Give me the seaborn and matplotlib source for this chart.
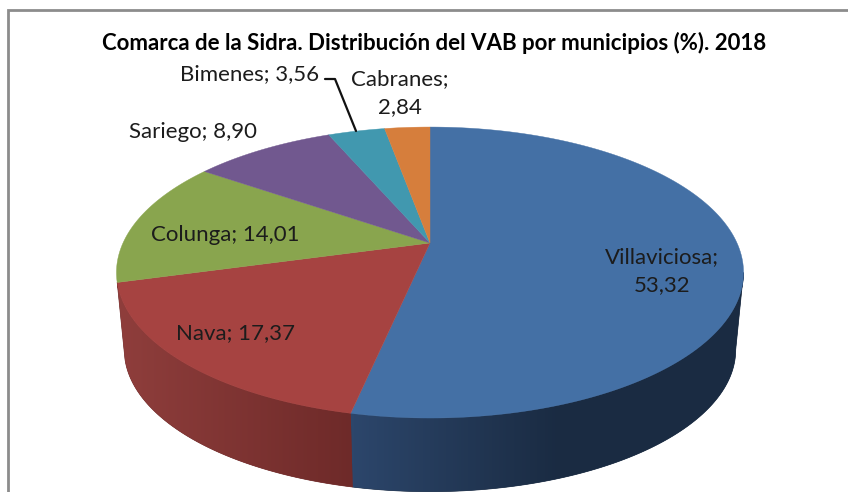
import numpy as np
import matplotlib
matplotlib.use("Agg")
import matplotlib.pyplot as plt
import seaborn as sns

municipios = ["Villaviciosa", "Nava", "Colunga", "Sariego", "Bimenes", "Cabranes"]
vab = [53.32, 17.37, 14.01, 8.90, 3.56, 2.84]
top_colors = ["#4470A5", "#A64341", "#89A54E", "#71588F", "#4198AF", "#D67E3C"]
titulo = "Comarca de la Sidra. Distribución del VAB por municipios (%). 2018"

# wall gradients, only the two front slices show a side
wall_colors = {0: ["#2C466B", "#1A2B42"], 1: ["#8F3E3C", "#6E2A29"]}
wall_span = {0: (353, 560), 1: (118, 353)}

sns.set_theme(style="white")
plt.rcParams["font.family"] = ["Lato", "DejaVu Sans"]

# perspective of the pie, in pixels of the picture
CX, CY = 430, 243
R, A, K = 307, 139.5, 0.203
SHRINK, DROP = 0.975, 78


def project(theta, shrink=1.0, drop=0.0):
    u, v = np.sin(theta), np.cos(theta)
    w = 1 + K * v
    return CX + shrink * R * u / w, CY + drop - shrink * A * v / w


fig, ax = plt.subplots(figsize=(8.48, 4.92), dpi=100)
fig.subplots_adjust(0, 0, 1, 1)
ax.axis("off")

# chart frame, cropped at right and bottom
ax.plot([8, 8, 848], [492, 10, 10], color="#8C8C8C", lw=2, solid_joinstyle="miter")

edges = np.concatenate([[0], np.cumsum(vab)]) / sum(vab) * 2 * np.pi

# side walls, gradient image clipped to the wall outline
# the wall starts where the rim turns to the front, the back half is hidden
rim_start = np.arccos(-K)
for i, colors in wall_colors.items():
    th = np.linspace(max(edges[i], rim_start), edges[i + 1], 300)
    tx, ty = project(th)
    bx, by = project(th, shrink=SHRINK, drop=DROP)
    wall = ax.fill(np.r_[tx, bx[::-1]], np.r_[ty, by[::-1]], color=colors[1], lw=0.5, zorder=2)[0]
    x0, x1 = wall_span[i]
    ramp = np.clip((np.arange(848) - x0) / (x1 - x0), 0, 1)[None, :]
    cmap = sns.blend_palette(colors, 256, as_cmap=True)
    im = ax.imshow(ramp, extent=[0, 848, 492, 0], aspect="auto", cmap=cmap, vmin=0, vmax=1, zorder=2.1)
    im.set_clip_path(wall)

# top slices
for i, val in enumerate(vab):
    th = np.linspace(edges[i], edges[i + 1], 200)
    x, y = project(th)
    ax.fill(np.r_[CX, x], np.r_[CY, y], color=top_colors[i], lw=0.3, zorder=3)

ax.set_xlim(0, 848)
ax.set_ylim(492, 0)

# labels
label_style = dict(ha="center", va="center", fontsize=16, color="#1C1C1C", zorder=5)
ax.text(662, 271, f"{municipios[0]};\n53,32", linespacing=1.5, **label_style)
ax.text(236, 333, f"{municipios[1]}; 17,37", **label_style)
ax.text(225, 235, f"{municipios[2]}; 14,01", **label_style)
ax.text(193, 132, f"{municipios[3]}; 8,90", **label_style)
ax.text(250, 74, f"{municipios[4]}; 3,56", **label_style)
ax.text(400, 93, f"{municipios[5]};\n2,84", linespacing=1.55, **label_style)

# leader for Bimenes
ax.plot([325, 335, 356], [79, 79, 131], color="#111111", lw=1.6, zorder=4)

ax.text(434, 43, titulo, ha="center", va="center", fontsize=16, fontweight="bold", color="black")

fig.savefig("out.png", dpi=100)
